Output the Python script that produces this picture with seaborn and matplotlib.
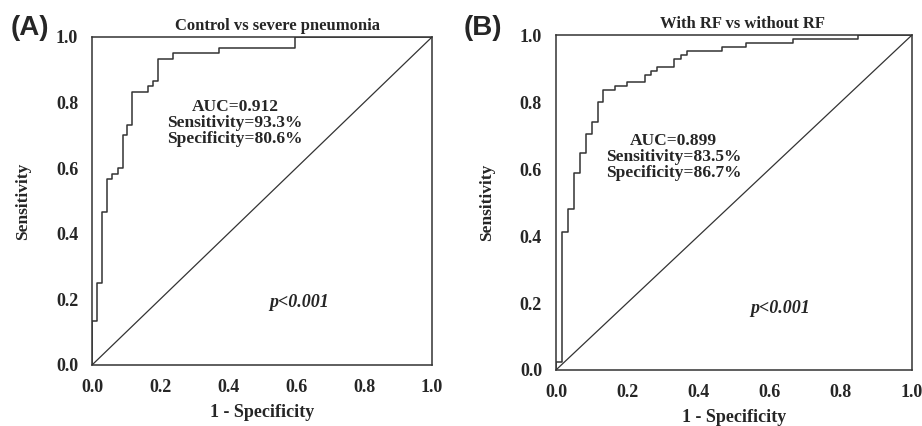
import matplotlib
matplotlib.use("Agg")
import matplotlib.pyplot as plt
import seaborn as sns
import pandas as pd

# ROC curve A: control vs severe pneumonia (1 - specificity, sensitivity)
fpr_a = [0.0, 0.0, 0.015, 0.015, 0.030, 0.030, 0.045, 0.045, 0.060, 0.060,
         0.075, 0.075, 0.090, 0.090, 0.104, 0.104, 0.119, 0.119, 0.164, 0.164,
         0.179, 0.179, 0.194, 0.194, 0.239, 0.239, 0.373, 0.373, 0.597, 0.597, 1.0]
tpr_a = [0.0, 0.133, 0.133, 0.250, 0.250, 0.467, 0.467, 0.567, 0.567, 0.583,
         0.583, 0.600, 0.600, 0.700, 0.700, 0.733, 0.733, 0.833, 0.833, 0.850,
         0.850, 0.867, 0.867, 0.933, 0.933, 0.950, 0.950, 0.967, 0.967, 1.0, 1.0]

# ROC curve B: with RF vs without RF
fpr_b = [0.0, 0.0, 0.017, 0.017, 0.033, 0.033, 0.050, 0.050, 0.067, 0.067,
         0.083, 0.083, 0.100, 0.100, 0.117, 0.117, 0.133, 0.133, 0.167, 0.167,
         0.200, 0.200, 0.250, 0.250, 0.267, 0.267, 0.283, 0.283, 0.333, 0.333,
         0.350, 0.350, 0.367, 0.367, 0.467, 0.467, 0.533, 0.533, 0.667, 0.667,
         0.850, 0.850, 1.0]
tpr_b = [0.0, 0.024, 0.024, 0.412, 0.412, 0.482, 0.482, 0.588, 0.588, 0.647,
         0.647, 0.706, 0.706, 0.741, 0.741, 0.800, 0.800, 0.835, 0.835, 0.847,
         0.847, 0.859, 0.859, 0.882, 0.882, 0.894, 0.894, 0.906, 0.906, 0.929,
         0.929, 0.941, 0.941, 0.953, 0.953, 0.965, 0.965, 0.976, 0.976, 0.988,
         0.988, 1.0, 1.0]

panels = [
    dict(tag="(A)", title="Control vs severe pneumonia", fpr=fpr_a, tpr=tpr_a,
         stats="AUC=0.912\nSensitivity=93.3%\nSpecificity=80.6%",
         stats_xy=(0.42, 0.81), p_xy=(0.61, 0.19),
         rect=[0.0998, 0.1432, 0.3688, 0.770], title_x=0.545, tag_x=0.012),
    dict(tag="(B)", title="With RF vs without RF", fpr=fpr_b, tpr=tpr_b,
         stats="AUC=0.899\nSensitivity=83.5%\nSpecificity=86.7%",
         stats_xy=(0.33, 0.708), p_xy=(0.63, 0.185),
         rect=[0.603, 0.1315, 0.386, 0.786], title_x=0.525, tag_x=0.503),
]

sns.set_style("white")
plt.rcParams['font.family'] = ['Liberation Serif', 'DejaVu Serif']
plt.rcParams['font.weight'] = 'bold'

line_col = '#333333'
ticks = [0.0, 0.2, 0.4, 0.6, 0.8, 1.0]

fig = plt.figure(figsize=(9.22, 4.26), dpi=100)
fig.set_facecolor('#FFFFFF')

for p in panels:
    ax = fig.add_axes(p["rect"])
    df = pd.DataFrame({"fpr": p["fpr"], "tpr": p["tpr"]})
    sns.lineplot(data=df, x="fpr", y="tpr", sort=False, estimator=None,
                 color=line_col, linewidth=1.1, ax=ax)
    ax.plot([0, 1], [0, 1], color=line_col, linewidth=0.9)

    ax.set_xlim(0, 1)
    ax.set_ylim(0, 1)
    ax.set_xticks(ticks)
    ax.set_yticks(ticks)
    ax.set_xticklabels([f"{t:.1f}" for t in ticks], fontweight='bold')
    ax.set_yticklabels([f"{t:.1f}" for t in ticks], fontweight='bold')
    ax.tick_params(axis='both', direction='out', length=7, width=1,
                   color=line_col, labelsize=13, pad=3)
    for s in ax.spines.values():
        s.set_visible(True)
        s.set_color(line_col)
        s.set_linewidth(1.1)

    ax.set_xlabel("1 - Specificity", fontsize=13, fontweight='bold', labelpad=6)
    ax.set_ylabel("Sensitivity", fontsize=12.5, fontweight='bold', labelpad=18)
    ax.set_title(p["title"], fontsize=12, fontweight='bold', x=p["title_x"], pad=5)

    ax.text(p["stats_xy"][0], p["stats_xy"][1], p["stats"], ha='center', va='top',
            ma='center', fontsize=12.5, fontweight='bold', linespacing=1.0,
            transform=ax.transAxes)
    ax.text(p["p_xy"][0], p["p_xy"][1], "p<0.001", ha='center', va='center',
            fontsize=13, fontweight='bold', fontstyle='italic', transform=ax.transAxes)

    fig.text(p["tag_x"], 0.935, p["tag"], fontsize=20, fontweight='bold',
             family=['Liberation Sans', 'DejaVu Sans'], ha='left', va='center')

fig.savefig("out.png", dpi=100)
